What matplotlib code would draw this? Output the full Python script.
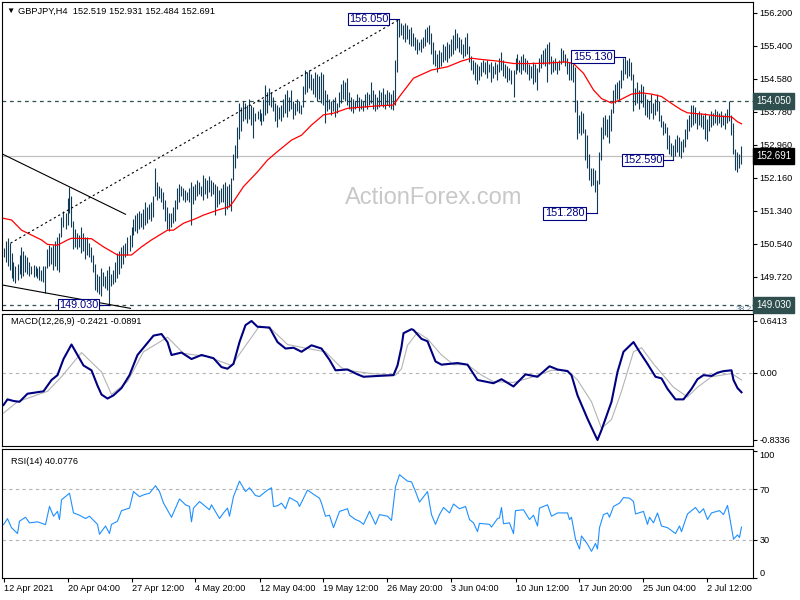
import matplotlib
matplotlib.use('Agg')
import matplotlib.pyplot as plt
import numpy as np

plt.rcParams['font.family'] = ['Liberation Sans', 'DejaVu Sans']

# GBPJPY H4 bars, 12 Apr 2021 -> 5 Jul 2021
highs = [
    150.42, 150.60, 150.68, 150.55, 150.30, 150.10, 150.00, 150.05, 150.25, 150.45,
    150.35, 150.25, 150.20, 150.10, 150.00, 150.02, 149.98, 149.95, 150.00, 149.90,
    150.00, 149.98, 150.40, 150.50, 150.45, 150.50, 150.60, 150.70, 150.80, 151.20,
    151.35, 151.30, 151.65, 151.94, 151.70, 151.10, 150.90, 150.80, 150.75, 150.95,
    150.80, 150.70, 150.70, 150.55, 150.45, 150.25, 150.05, 149.80, 149.75, 149.95,
    149.85, 149.75, 149.90, 150.00, 149.80, 149.90, 150.10, 150.30, 150.35, 150.45,
    150.50, 150.55, 150.70, 150.75, 150.95, 151.15, 151.25, 151.30, 151.35, 151.30,
    151.40, 151.55, 151.45, 151.50, 151.55, 151.70, 152.39, 152.05, 151.95, 151.90,
    151.80, 151.60, 151.45, 151.30, 151.30, 151.45, 151.60, 151.90, 152.00, 151.95,
    151.90, 151.85, 151.80, 151.90, 152.05, 151.95, 152.00, 152.10, 152.05, 151.95,
    152.22, 152.15, 152.10, 152.20, 152.10, 152.05, 152.00, 151.95, 151.85, 151.90,
    152.00, 152.05, 151.95, 152.00, 152.15, 152.75, 152.95, 153.40, 154.00, 153.90,
    154.05, 154.00, 153.95, 154.10, 153.95, 153.90, 153.75, 153.80, 153.85, 153.75,
    154.10, 154.43, 154.25, 154.35, 154.25, 154.15, 154.00, 153.95, 153.90, 153.95,
    154.10, 154.20, 154.30, 154.15, 154.30, 154.05, 154.00, 154.10, 154.05, 153.95,
    154.40, 154.80, 154.75, 154.80, 154.70, 154.60, 154.75, 154.70, 154.65, 154.75,
    154.70, 154.30, 154.20, 154.10, 154.05, 154.10, 154.15, 154.00, 154.25, 154.45,
    154.55, 154.50, 154.60, 154.25, 154.15, 154.10, 154.05, 154.20, 154.15, 154.10,
    154.05, 154.20, 154.25, 154.20, 154.50, 154.30, 154.20, 154.15, 154.30, 154.25,
    154.35, 154.20, 154.30, 154.25, 154.20, 154.30, 155.05, 156.03, 156.05, 155.95,
    155.90, 155.95, 155.90, 155.80, 155.85, 155.70, 155.60, 155.55, 155.50, 155.55,
    155.60, 155.80, 155.85, 155.90, 155.70, 155.50, 155.30, 155.20, 155.30, 155.25,
    155.45, 155.40, 155.50, 155.45, 155.55, 155.65, 155.80, 155.70, 155.60, 155.55,
    155.45, 155.60, 155.70, 155.40, 155.15, 155.05, 155.00, 154.95, 154.90, 155.00,
    155.05, 155.00, 155.05, 154.95, 155.00, 154.90, 155.00, 154.95, 155.10, 155.25,
    155.05, 154.95, 154.90, 154.85, 154.80, 154.80, 155.10, 155.20, 155.05, 155.15,
    155.20, 155.10, 155.05, 154.95, 154.90, 155.00, 154.95, 154.85, 155.10, 155.20,
    155.30, 155.35, 155.45, 155.50, 155.15, 155.05, 155.10, 155.00, 155.05, 155.35,
    155.30, 155.20, 155.10, 155.00, 155.00, 154.95, 154.88, 154.06, 153.70, 153.80,
    153.75, 153.35, 153.20, 152.75, 152.40, 152.40, 152.35, 152.10, 152.80, 153.40,
    153.65, 153.70, 153.60, 153.70, 153.85, 154.30, 154.45, 154.50, 154.55, 154.80,
    155.10, 155.13, 155.05, 155.10, 155.00, 154.70, 154.35, 154.50, 154.30, 154.45,
    154.40, 154.20, 154.10, 154.05, 154.20, 154.00, 154.10, 154.20, 154.05, 153.70,
    153.55, 153.50, 153.40, 153.20, 153.00, 152.95, 153.10, 153.20, 153.15, 153.05,
    153.10, 153.35, 153.60, 153.70, 153.95, 153.95, 153.90, 153.75, 153.80, 153.75,
    153.70, 153.75, 153.60, 153.70, 153.80, 153.75, 153.85, 153.80, 153.75, 153.80,
    153.70, 153.75, 153.85, 154.05, 153.70, 153.50, 152.85, 152.80, 152.75, 152.931,
]
lows = [
    150.22, 150.10, 150.00, 149.90, 149.70, 149.62, 149.58, 149.65, 149.80, 149.70,
    149.75, 149.85, 149.80, 149.75, 149.80, 149.72, 149.75, 149.70, 149.65, 149.62,
    149.60, 149.32, 149.95, 150.00, 150.05, 149.90, 150.00, 149.90, 149.85, 150.70,
    150.95, 150.90, 151.00, 151.30, 150.95, 150.40, 150.45, 150.40, 150.45, 150.30,
    150.35, 150.15, 150.25, 150.20, 150.10, 149.85, 149.40, 149.35, 149.30, 149.25,
    149.50, 149.45, 149.40, 149.03, 149.50, 149.55, 149.60, 149.70, 149.80, 149.95,
    150.05, 150.20, 150.25, 150.35, 150.45, 150.75, 150.85, 150.80, 150.90, 150.95,
    150.90, 151.00, 151.05, 151.15, 151.10, 151.20, 151.70, 151.60, 151.65, 151.55,
    151.40, 151.10, 150.90, 150.85, 150.95, 151.05, 151.10, 151.40, 151.55, 151.70,
    151.60, 151.55, 151.60, 151.55, 151.00, 151.50, 151.60, 151.70, 151.75, 151.70,
    151.61, 151.75, 151.65, 151.80, 151.70, 151.75, 151.24, 151.45, 151.50, 151.55,
    151.55, 151.25, 151.40, 151.45, 151.35, 152.10, 152.40, 152.65, 153.10, 153.30,
    153.55, 153.60, 153.50, 153.60, 153.45, 153.12, 153.55, 153.60, 153.55, 153.45,
    153.55, 153.70, 153.75, 153.95, 153.90, 153.80, 153.55, 153.40, 153.60, 153.55,
    153.65, 153.75, 153.65, 153.80, 153.85, 153.60, 153.70, 153.80, 153.75, 153.72,
    153.90, 154.20, 154.25, 154.35, 154.30, 154.20, 154.15, 154.05, 154.10, 154.00,
    153.95, 153.50, 153.80, 153.85, 153.70, 153.80, 153.65, 153.75, 153.90, 154.00,
    154.10, 154.05, 153.95, 153.85, 153.80, 153.75, 153.85, 153.90, 153.80, 153.85,
    153.80, 153.90, 153.85, 153.95, 154.00, 153.85, 153.80, 153.85, 153.90, 153.95,
    153.90, 153.85, 153.95, 153.90, 153.85, 153.83, 153.95, 154.75, 155.60, 155.65,
    155.55, 155.50, 155.55, 155.45, 155.40, 155.40, 155.30, 155.20, 155.30, 155.25,
    155.35, 155.40, 155.50, 155.45, 155.20, 154.95, 154.90, 154.75, 154.85, 154.90,
    155.00, 155.05, 155.00, 155.10, 155.15, 155.20, 155.30, 155.35, 155.25, 155.20,
    155.10, 155.15, 155.20, 155.00, 154.80, 154.70, 154.55, 154.45, 154.55, 154.65,
    154.75, 154.70, 154.60, 154.75, 154.50, 154.60, 154.70, 154.55, 154.75, 154.80,
    154.65, 154.60, 154.50, 154.55, 154.45, 154.15, 154.70, 154.80, 154.75, 154.70,
    154.80, 154.75, 154.70, 154.55, 154.60, 154.45, 154.50, 154.30, 154.75, 154.85,
    154.95, 154.90, 154.50, 154.95, 154.70, 154.75, 154.80, 154.70, 154.80, 154.95,
    155.00, 154.90, 154.70, 154.55, 154.55, 154.50, 153.78, 153.10, 153.25, 153.20,
    153.25, 152.60, 152.40, 152.10, 151.95, 151.98, 151.80, 151.28, 152.00, 152.60,
    153.10, 153.20, 153.15, 153.00, 153.30, 153.75, 154.00, 154.10, 154.05, 154.35,
    154.55, 154.70, 154.60, 154.65, 154.55, 153.80, 153.95, 154.00, 153.85, 154.00,
    153.90, 153.70, 153.65, 153.60, 153.75, 153.60, 153.70, 153.80, 153.55, 153.40,
    153.20, 153.25, 152.85, 152.75, 152.70, 152.59, 152.70, 152.80, 152.70, 152.65,
    152.80, 152.90, 153.10, 153.30, 153.40, 153.45, 153.50, 153.35, 153.45, 153.40,
    153.35, 153.10, 153.05, 153.30, 153.40, 153.45, 153.50, 153.45, 153.50, 153.40,
    153.45, 153.35, 153.50, 153.55, 153.20, 152.75, 152.35, 152.30, 152.40, 152.484,
]

# red moving average (bar index, price)
ma_x = [0, 4, 9, 14, 19, 22, 27, 32, 34, 44, 50, 57, 64, 69, 74, 82, 85, 90, 96, 100,
        107, 113, 115, 120, 127, 132, 137, 144, 149, 154, 160, 165, 172, 177, 187, 195,
        198, 205, 214, 222, 229, 234, 239, 247, 255, 264, 272, 281, 285, 290, 295, 299,
        304, 308, 314, 319, 324, 329, 334, 339, 342, 351, 357, 364, 367, 369]
ma_y = [151.16, 151.12, 150.87, 150.75, 150.63, 150.52, 150.50, 150.63, 150.67, 150.66,
        150.46, 150.26, 150.26, 150.46, 150.63, 150.87, 150.87, 151.04, 151.15, 151.24,
        151.36, 151.45, 151.57, 151.94, 152.30, 152.59, 152.80, 153.08, 153.20, 153.45,
        153.70, 153.74, 153.86, 153.88, 153.92, 153.94, 154.15, 154.60, 154.80, 154.88,
        155.02, 155.09, 155.06, 155.02, 154.96, 154.96, 154.97, 155.00, 154.96, 154.72,
        154.31, 154.10, 153.99, 154.06, 154.21, 154.24, 154.21, 154.15, 153.98, 153.82,
        153.75, 153.71, 153.67, 153.65, 153.53, 153.48]

# MACD(12,26,9)
macd_x = [0, 2, 5, 8, 12, 20, 24, 27, 30, 34, 37, 40, 44, 47, 49, 52, 55, 59, 63, 67,
          71, 75, 79, 82, 84, 89, 94, 99, 105, 109, 112, 115, 118, 121, 124, 127, 133,
          137, 141, 145, 149, 154, 159, 163, 166, 172, 177, 180, 187, 195, 197, 199, 200,
          204, 205, 209, 212, 216, 219, 227, 232, 237, 245, 249, 255, 261, 267, 273, 277,
          282, 284, 287, 292, 295, 297, 299, 304, 307, 310, 315, 318, 322, 326, 329, 332,
          336, 340, 344, 347, 350, 354, 357, 360, 364, 365, 367, 369]
macd_y = [-0.40, -0.33, -0.35, -0.36, -0.26, -0.23, -0.09, -0.03, 0.17, 0.35, 0.22, 0.09,
          0.03, -0.16, -0.27, -0.32, -0.28, -0.19, -0.03, 0.22, 0.34, 0.46, 0.48, 0.38,
          0.22, 0.25, 0.17, 0.22, 0.18, 0.07, 0.05, 0.11, 0.38, 0.59, 0.6413, 0.57, 0.56,
          0.38, 0.30, 0.31, 0.26, 0.34, 0.30, 0.16, 0.03, 0.04, -0.02, -0.05, -0.04, -0.03,
          0.09, 0.32, 0.49, 0.54, 0.53, 0.42, 0.39, 0.14, 0.10, 0.12, 0.10, -0.09, -0.13,
          -0.08, -0.17, -0.02, -0.05, 0.08, 0.04, 0.02, -0.03, -0.28, -0.57, -0.73, -0.8336,
          -0.71, -0.36, 0.01, 0.26, 0.38, 0.26, 0.11, -0.05, -0.07, -0.20, -0.33, -0.33,
          -0.20, -0.08, -0.03, -0.04, 0.00, 0.02, 0.03, -0.09, -0.19, -0.2421]
sig_x = [0, 7, 22, 29, 39, 49, 54, 62, 70, 82, 90, 102, 114, 120, 128, 134, 142, 152, 161,
         169, 175, 184, 196, 199, 202, 207, 212, 219, 225, 232, 239, 245, 255, 265, 274,
         282, 287, 294, 299, 304, 309, 315, 319, 325, 335, 342, 347, 354, 364, 369]
sig_y = [-0.50, -0.36, -0.23, -0.05, 0.25, 0.01, -0.27, -0.11, 0.26, 0.44, 0.24, 0.20,
         0.09, 0.30, 0.58, 0.54, 0.35, 0.30, 0.26, 0.06, 0.02, -0.01, -0.03, 0.05, 0.34,
         0.50, 0.42, 0.22, 0.10, 0.10, -0.03, -0.11, -0.12, -0.05, 0.03, 0.03, -0.09, -0.36,
         -0.69, -0.58, -0.23, 0.26, 0.31, 0.11, -0.18, -0.30, -0.18, -0.05, -0.01, -0.0891]

# RSI(14)
rsi_x = [0, 2, 4, 7, 8, 11, 13, 17, 21, 23, 25, 27, 28, 29, 33, 35, 38, 41, 43, 47, 48, 51,
         53, 54, 57, 59, 63, 65, 68, 70, 73, 76, 78, 80, 84, 88, 91, 93, 94, 95, 98, 100,
         103, 104, 108, 110, 112, 113, 115, 118, 121, 123, 126, 128, 132, 134, 135, 137,
         139, 141, 143, 147, 148, 152, 155, 158, 159, 161, 163, 165, 168, 172, 173, 176,
         178, 180, 183, 186, 188, 192, 194, 196, 198, 202, 204, 206, 208, 212, 214, 216,
         218, 220, 223, 225, 228, 231, 233, 235, 237, 238, 243, 244, 247, 248, 249, 250,
         253, 255, 256, 260, 263, 265, 267, 268, 272, 274, 277, 282, 283, 284, 286, 288,
         289, 292, 294, 296, 297, 298, 300, 302, 303, 305, 308, 310, 313, 315, 316, 320,
         322, 323, 325, 327, 329, 332, 336, 338, 339, 342, 346, 348, 350, 352, 354, 358,
         360, 362, 363, 365, 367, 368, 369]
rsi_y = [42, 46.7, 39.6, 35, 44.7, 47.8, 43.4, 44.2, 42, 56.3, 48.6, 52.4, 46, 61.5, 66.7,
         51.2, 49.4, 46.8, 48.6, 42.2, 34.4, 40.9, 35, 42.2, 44.7, 53, 55, 68, 64, 65.4,
         66.7, 72.6, 68, 59, 47.8, 62.2, 57.6, 56.3, 44.2, 55, 60.2, 57.6, 53.7, 57.6, 46.8,
         51.2, 55, 48.6, 64.1, 76.2, 68, 71, 64.9, 64.1, 69.2, 71, 56.3, 56.8, 58.9, 54.5,
         63.3, 59.7, 56.3, 69.2, 65.9, 62.8, 58.9, 48.6, 49.4, 39.6, 52.4, 54.5, 49.4, 46,
         44.7, 42.2, 52.4, 42.2, 49.9, 48.6, 45.3, 71.8, 81.3, 76.2, 75.7, 68, 59.7, 68,
         49.9, 42.2, 49.9, 55.5, 51.2, 58.2, 54.5, 56.3, 46, 43.4, 36.5, 43, 42.2, 40.1,
         46.7, 47.3, 55.5, 42.7, 43.4, 35, 53, 53.7, 46, 49.4, 40.9, 55, 57.6, 48.6, 51.2,
         51.2, 46, 47.8, 30.5, 22.8, 33.1, 26.6, 21, 27.2, 22.8, 39.6, 49.9, 51.2, 47.8,
         56.3, 58.9, 63.3, 62.8, 60.2, 50.4, 52.4, 42.2, 47.8, 43.4, 51.2, 40.9, 39.6, 35,
         40.9, 36.5, 50.4, 55.5, 51.2, 54.5, 46, 51.2, 53, 49.9, 57.1, 48.6, 30.5, 33.9,
         31.8, 40.0776]

date_ticks = [0, 32, 64, 96, 128, 160, 192, 224, 256, 288, 320, 352]
date_labels = ['12 Apr 2021', '20 Apr 04:00', '27 Apr 12:00', '4 May 20:00', '12 May 04:00',
               '19 May 12:00', '26 May 20:00', '3 Jun 04:00', '10 Jun 12:00', '17 Jun 20:00',
               '25 Jun 04:00', '2 Jul 12:00']
price_ticks = [156.200, 155.400, 154.580, 153.780, 152.960, 152.160, 151.340, 150.540,
               149.720, 148.920]

# swing labels: value, bar of the swing point
swing_vals = [156.050, 149.030, 155.130, 152.590, 151.280]
swing_bars = [198, 53, 311, 335, 297]

last_close = 152.691
level_hi = 154.050
level_lo = 149.030

bar_col = '#123c56'
fs = 6.6
x_range = (-0.75, 374.75)

fig = plt.figure(figsize=(8, 6), dpi=100)
ax = fig.add_axes([2/800, 1-310/600, 751/800, 308/600])
ax2 = fig.add_axes([2/800, 1-446/600, 751/800, 132/600])
ax3 = fig.add_axes([2/800, 1-578/600, 751/800, 129/600])

bars = np.arange(len(highs))

# ---- price panel
ax.text(215, 151.65, 'ActionForex.com', ha='center', va='center', fontsize=17,
        color='#c8c8c8', zorder=0)
ax.axhline(last_close, color='#c0c0c0', lw=0.9, zorder=1)
ax.axhline(level_hi, color='#2f4f4f', lw=0.9, dashes=(3, 3), zorder=1)
ax.axhline(level_lo, color='#2f4f4f', lw=0.9, dashes=(3, 3), zorder=1)
ax.vlines(bars, lows, highs, colors=bar_col, lw=0.8, zorder=2, snap=True)
ax.plot(ma_x, ma_y, color='red', lw=0.9, zorder=3)

# trend lines
ax.plot([-0.2, 61], [152.73, 151.26], color='black', lw=0.8, zorder=3)
ax.plot([-0.2, 63.5], [149.52, 148.95], color='black', lw=0.8, zorder=3)
ax.plot([3.5, 197.5], [150.55, 156.03], color='black', lw=0.8, dashes=(2, 2.5), zorder=3)

# swing labels
box_x = [182.5, 37.5, 294.5, 319.5, 280.5]
for bx, v, sb in zip(box_x, swing_vals, swing_bars):
    if sb - bx > 12:
        ax.plot([bx + 10, sb], [v, v], color='#000080', lw=0.8, zorder=4)
    ax.text(bx, v, '%.3f' % v, ha='center', va='center', fontsize=7.8, color='#000080',
            bbox=dict(boxstyle='square,pad=0.12', fc='white', ec='#000080', lw=0.8),
            zorder=5, clip_on=True)

ax.text(366, level_lo - 0.03, '38.2', ha='left', va='top', fontsize=6, color='#5a7a9a',
        clip_on=True)

ax.set_xlim(*x_range)
ax.set_ylim(148.91, 156.47)
ax.set_xticks([])
ax.yaxis.tick_right()
ax.set_yticks(price_ticks)
ax.set_yticklabels(['%.3f' % t for t in price_ticks])
ax.tick_params(axis='y', length=3, width=0.8, labelsize=fs, pad=1.5)

for v, bg in [(level_hi, '#2f4f4f'), (last_close, '#000000'), (level_lo, '#2f4f4f')]:
    ax.text(1.004, v, '%.3f' % v, transform=ax.get_yaxis_transform(), ha='left',
            va='center', fontsize=7.0, color='white', zorder=6, clip_on=False,
            bbox=dict(boxstyle='square,pad=0.3', fc=bg, ec=bg))

fig.text(6/800, 1-11/600, '▼', fontsize=6, va='center', ha='left')
fig.text(18/800, 1-11/600, 'GBPJPY,H4  152.519 152.931 152.484 152.691', fontsize=6.7,
         va='center', ha='left')

# ---- MACD panel
ax2.axhline(0, color='#b4b4b4', lw=0.8, dashes=(3, 3))
ax2.plot(sig_x, sig_y, color='#b4b4b4', lw=0.8)
ax2.plot(macd_x, macd_y, color='#000080', lw=1.5)
ax2.set_xlim(*x_range)
ax2.set_ylim(-0.908, 0.728)
ax2.set_xticks([])
ax2.yaxis.tick_right()
ax2.set_yticks([0.6413, 0.0, -0.8336])
ax2.set_yticklabels(['0.6413', '0.00', '-0.8336'])
ax2.tick_params(axis='y', length=3, width=0.8, labelsize=fs, pad=1.5)
ax2.text(0.012, 0.94, 'MACD(12,26,9) -0.2421 -0.0891', transform=ax2.transAxes,
         fontsize=fs, va='center', ha='left')

# ---- RSI panel
ax3.axhline(70, color='#b4b4b4', lw=0.8, dashes=(3, 3))
ax3.axhline(30, color='#b4b4b4', lw=0.8, dashes=(3, 3))
ax3.plot(rsi_x, rsi_y, color='#1e90ff', lw=0.8)
ax3.set_xlim(*x_range)
ax3.set_ylim(0, 101.5)
ax3.yaxis.tick_right()
ax3.set_yticks([100, 70, 30, 0])
ax3.set_yticklabels(['100', '70', '30', '0'])
ax3.tick_params(axis='y', length=3, width=0.8, labelsize=fs, pad=1.5)
tl = ax3.get_yticklabels()
tl[0].set_va('top')
tl[3].set_va('bottom')
ax3.text(0.012, 0.9, 'RSI(14) 40.0776', transform=ax3.transAxes,
         fontsize=fs, va='center', ha='left')
ax3.set_xticks(date_ticks)
ax3.set_xticklabels(date_labels)
for lab in ax3.get_xticklabels():
    lab.set_ha('left')
ax3.tick_params(axis='x', length=3, width=0.8, labelsize=fs, pad=1.5)

for a in (ax, ax2, ax3):
    for s in a.spines.values():
        s.set_linewidth(0.8)
        s.set_color('black')

fig.savefig('out.png', dpi=100)
